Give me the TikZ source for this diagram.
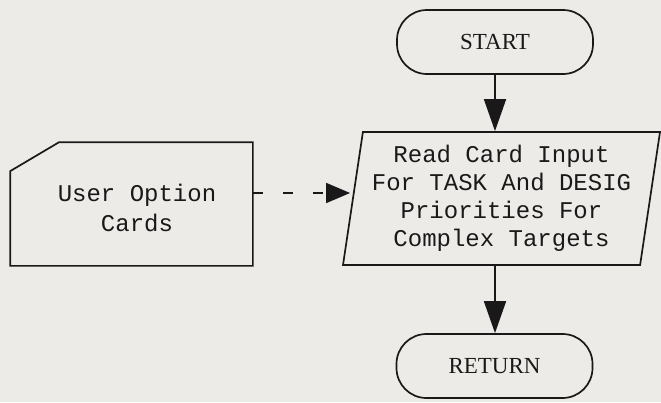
\documentclass[tikz,border=0pt]{standalone}
\usepackage{fontspec}
\setmonofont{Liberation Mono}
\newfontfamily\termfont{Liberation Serif}
\usetikzlibrary{shapes.geometric,arrows.meta,calc}
\definecolor{paper}{RGB}{236,235,232}
\definecolor{ink}{RGB}{25,25,25}
\tikzset{
  every path/.style={line width=1.7pt},
  terminal/.style={draw=ink, rectangle, rounded corners=30pt, minimum width=196pt, minimum height=64pt, inner sep=0pt, font=\termfont\fontsize{23}{26}\selectfont, text=ink},
  iobox/.style={draw=ink, trapezium, trapezium left angle=79.4, trapezium right angle=100.6, trapezium stretches body, minimum width=317pt, minimum height=133pt, inner sep=0pt, align=center, font=\ttfamily\fontsize{24}{28}\selectfont, text=ink},
  cardshape/.style={rectangle, minimum width=241pt, minimum height=122pt, inner sep=0pt},
  cardtext/.style={inner sep=0pt, align=center, font=\ttfamily\fontsize{24}{30}\selectfont, text=ink},
  flow/.style={draw=ink, -{Triangle[length=32pt,width=22pt]}},
  dflow/.style={draw=ink, dash pattern=on 10pt off 20pt, -{Triangle[length=24pt,width=20pt]}},
}
\begin{document}
\begin{tikzpicture}[x=1pt,y=-1pt]
  \fill[paper] (0,0) rectangle (661,402);
  \useasboundingbox (0,0) rectangle (661,402);
  \node[terminal] (start) at (495,42) {START};
  \node[iobox] (read) at (501.5,198.5) {Read Card Input\\For TASK And DESIG\\Priorities For\\Complex Targets};
  \node[terminal] (ret) at (494.5,366) {RETURN};
  \node[cardshape] (card) at (131.5,204) {};
  \node[cardtext] (cardlbl) at (137,208) {User Option\\Cards};
  \draw[draw=ink, line join=miter]
    ($(card.north west)+(49,0)$) -- (card.north east) -- (card.south east)
    -- (card.south west) -- ($(card.north west)+(0,29)$) -- cycle;
  \draw[flow] (start.south) -- (start.south |- read.north);
  \draw[flow] (start.south |- read.south) -- (start.south |- ret.north);
  \draw[dflow] (card.east |- 0,193) -- ($(read.west |- 0,193)+(-2,0)$);
\end{tikzpicture}
\end{document}
